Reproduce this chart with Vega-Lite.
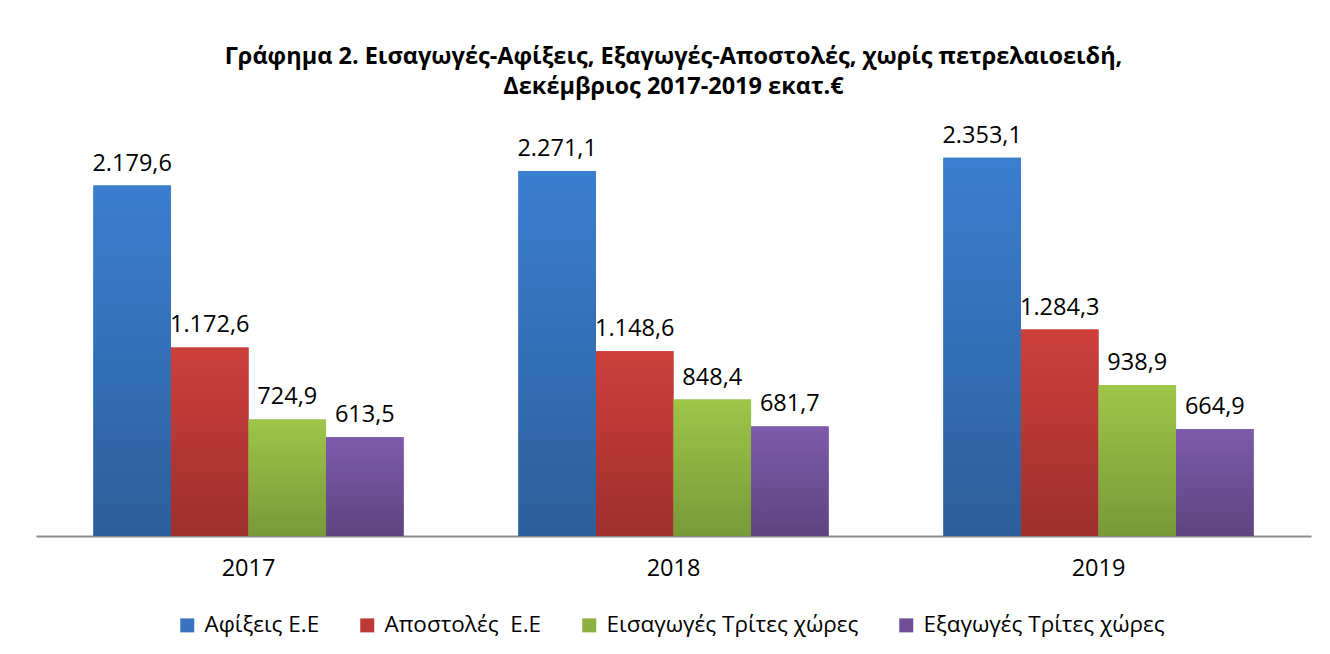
{
  "$schema": "https://vega.github.io/schema/vega-lite/v6.json",
  "autosize": "none",
  "width": 1275,
  "height": 418,
  "padding": {"left": 36, "top": 118, "right": 19, "bottom": 118},
  "background": "white",
  "config": {
    "font": "Open Sans",
    "view": {"stroke": null},
    "locale": {"number": {"decimal": ",", "thousands": ".", "grouping": [3], "currency": ["", "€"]}}
  },
  "title": {
    "text": ["Γράφημα 2. Εισαγωγές-Αφίξεις, Εξαγωγές-Αποστολές, χωρίς πετρελαιοειδή,", "Δεκέμβριος 2017-2019 εκατ.€"],
    "fontSize": 23.5,
    "fontWeight": "bold",
    "font": "Open Sans",
    "color": "#000000",
    "lineHeight": 30,
    "anchor": "middle",
    "offset": 20
  },
  "data": {
    "values": [
      {"year": "2017", "s": "Αφίξεις Ε.Ε", "v": 2179.6},
      {"year": "2017", "s": "Αποστολές\u00a0 Ε.Ε", "v": 1172.6},
      {"year": "2017", "s": "Εισαγωγές Τρίτες χώρες", "v": 724.9},
      {"year": "2017", "s": "Εξαγωγές Τρίτες χώρες", "v": 613.5},
      {"year": "2018", "s": "Αφίξεις Ε.Ε", "v": 2271.1},
      {"year": "2018", "s": "Αποστολές\u00a0 Ε.Ε", "v": 1148.6},
      {"year": "2018", "s": "Εισαγωγές Τρίτες χώρες", "v": 848.4},
      {"year": "2018", "s": "Εξαγωγές Τρίτες χώρες", "v": 681.7},
      {"year": "2019", "s": "Αφίξεις Ε.Ε", "v": 2353.1},
      {"year": "2019", "s": "Αποστολές\u00a0 Ε.Ε", "v": 1284.3},
      {"year": "2019", "s": "Εισαγωγές Τρίτες χώρες", "v": 938.9},
      {"year": "2019", "s": "Εξαγωγές Τρίτες χώρες", "v": 664.9}
    ]
  },
  "encoding": {
    "x": {
      "field": "year", "type": "nominal",
      "scale": {"paddingInner": 0.27, "paddingOuter": 0.135},
      "axis": {
        "title": null, "labelAngle": 0, "ticks": false,
        "domainColor": "#8c8c8c", "domainWidth": 2,
        "labelFontSize": 23.5, "labelColor": "#000000", "labelPadding": 20,
        "labelFont": "Open Sans"
      }
    },
    "xOffset": {"field": "s", "type": "nominal", "sort": ["Αφίξεις Ε.Ε", "Αποστολές\u00a0 Ε.Ε", "Εισαγωγές Τρίτες χώρες", "Εξαγωγές Τρίτες χώρες"], "scale": {"paddingInner": 0, "paddingOuter": 0}},
    "y": {
      "field": "v", "type": "quantitative",
      "scale": {"domain": [0, 2600], "nice": false},
      "axis": null
    }
  },
  "layer": [
    {
      "mark": {"type": "bar"},
      "encoding": {
        "color": {
          "field": "s", "type": "nominal",
          "sort": ["Αφίξεις Ε.Ε", "Αποστολές\u00a0 Ε.Ε", "Εισαγωγές Τρίτες χώρες", "Εξαγωγές Τρίτες χώρες"],
          "scale": {"range": ["#3773c0", "#bd3936", "#8cb142", "#704f97"]},
          "legend": {
            "title": null, "orient": "none", "direction": "horizontal",
            "legendX": 140, "legendY": 496,
            "symbolType": "square", "symbolSize": 196, "symbolStrokeWidth": 0,
            "labelFontSize": 22.5, "labelColor": "#000000", "labelFont": "Open Sans",
            "labelLimit": 0, "columnPadding": 36, "labelOffset": 6
          }
        }
      }
    },
    {
      "mark": {"type": "bar"},
      "encoding": {
        "fill": {
          "condition": [
            {"test": "datum.s === 'Αφίξεις Ε.Ε'", "value": {"gradient": "linear", "x1": 0, "y1": 0, "x2": 0, "y2": 1, "stops": [{"offset": 0, "color": "#3a7fd0"}, {"offset": 1, "color": "#2d5e9b"}]}},
            {"test": "datum.s === 'Αποστολές\u00a0 Ε.Ε'", "value": {"gradient": "linear", "x1": 0, "y1": 0, "x2": 0, "y2": 1, "stops": [{"offset": 0, "color": "#cd3f3b"}, {"offset": 1, "color": "#9e2f2d"}]}},
            {"test": "datum.s === 'Εισαγωγές Τρίτες χώρες'", "value": {"gradient": "linear", "x1": 0, "y1": 0, "x2": 0, "y2": 1, "stops": [{"offset": 0, "color": "#9ec648"}, {"offset": 1, "color": "#789939"}]}}
          ],
          "value": {"gradient": "linear", "x1": 0, "y1": 0, "x2": 0, "y2": 1, "stops": [{"offset": 0, "color": "#7e5bab"}, {"offset": 1, "color": "#5f4380"}]}
        }
      }
    },
    {
      "mark": {"type": "text", "baseline": "bottom", "dy": -10, "fontSize": 23.5, "font": "Open Sans", "color": "#000000"},
      "encoding": {
        "text": {"field": "v", "type": "quantitative", "format": ",.1f"}
      }
    }
  ]
}
